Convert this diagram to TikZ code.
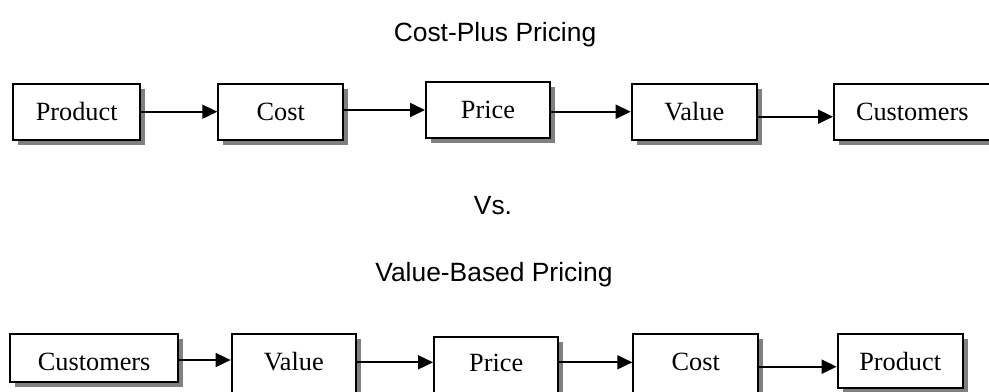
\documentclass[tikz,border=0pt]{standalone}
\usepackage{fontspec}
\setmainfont{Liberation Serif}
\newfontfamily\titlefont{Liberation Sans}
\usetikzlibrary{arrows.meta,shadows}
\begin{document}
\begin{tikzpicture}[x=1bp,y=-1bp,
  box/.style={draw=black, line width=2bp, fill=white, inner sep=0pt,
    font=\fontsize{26.4}{29}\selectfont, text height=18bp, text depth=0bp,
    drop shadow={shadow xshift=5bp, shadow yshift=-5bp, fill=black!50, opacity=1}},
  arr/.style={line width=1.8bp, -{Triangle[length=15bp,width=14bp]}},
  ttl/.style={font=\titlefont\fontsize{26.5}{30}\selectfont, inner sep=0pt}]
\useasboundingbox (0,0) rectangle (989,391);
\begin{scope}
\clip (0,0) rectangle (989,391);
% titles
\node[ttl] (t1) at (495,35) {Cost-Plus Pricing};
\node[ttl] (vs) at (493,206) {Vs.};
\node[ttl] (t2) at (494,275) {Value-Based Pricing};
% top row
\node[box, minimum width=126.7bp, minimum height=55.7bp, text depth=1bp] (P1) at (76.7,112.2) {Product};
\node[box, minimum width=125bp, minimum height=55.7bp, text depth=1bp] (C1) at (280.8,112.2) {Cost};
\node[box, minimum width=124bp, minimum height=56bp, text depth=2bp] (Pr1) at (488,110.3) {Price};
\node[box, minimum width=125bp, minimum height=55.7bp, text depth=1bp] (V1) at (694.2,112.2) {Value};
\node[box, minimum width=156bp, minimum height=55.7bp, text width=156bp, align=left, text depth=1bp] (Cu1) at (912,112.2) {\hspace*{22bp}Customers};
\draw[arr] (P1.east |- 0,111.7) -- (C1.west |- 0,111.7);
\draw[arr] (C1.east |- 0,110) -- (Pr1.west |- 0,110);
\draw[arr] (Pr1.east |- 0,111.7) -- (V1.west |- 0,111.7);
\draw[arr] (V1.east |- 0,116.7) -- (Cu1.west |- 0,116.7);
% bottom row
\node[box, minimum width=168.3bp, minimum height=47.4bp, text height=24bp] (Cu2) at (94.2,358) {Customers};
\node[box, minimum width=124.3bp, minimum height=60bp, text depth=6.6bp] (V2) at (293.8,364.3) {Value};
\node[box, minimum width=124.3bp, minimum height=57bp, text depth=7.6bp] (Pr2) at (496.2,365.8) {Price};
\node[box, minimum width=125bp, minimum height=60bp, text depth=6.6bp] (Co2) at (695.8,364.3) {Cost};
\node[box, minimum width=125bp, minimum height=54bp, text depth=0.6bp] (Pd2) at (900.2,361.3) {Product};
\draw[arr] (Cu2.east |- 0,360) -- (V2.west |- 0,360);
\draw[arr] (V2.east |- 0,362.3) -- (Pr2.west |- 0,362.3);
\draw[arr] (Pr2.east |- 0,362.3) -- (Co2.west |- 0,362.3);
\draw[arr] (Co2.east |- 0,366.7) -- (Pd2.west |- 0,366.7);
\end{scope}
\end{tikzpicture}
\end{document}
